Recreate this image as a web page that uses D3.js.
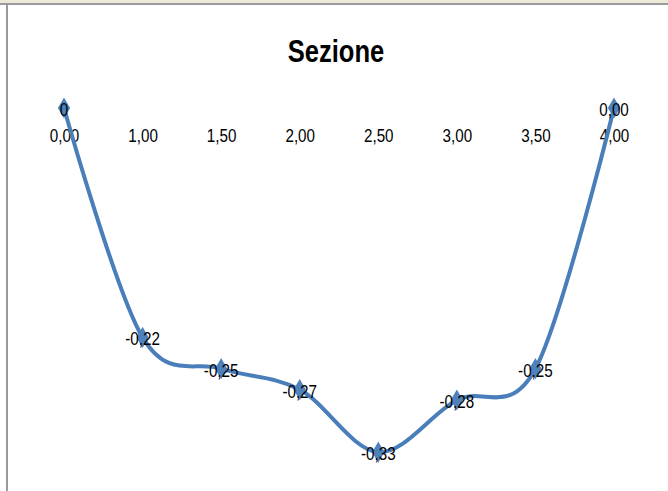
<!doctype html>
<html>
<head>
    <script src="https://cdnjs.cloudflare.com/ajax/libs/d3/7.8.5/d3.min.js"></script>
    <style>
        body { margin: 0; background: #fff; }
        svg { display: block; }
        text { font-family: "Liberation Sans Narrow", "Liberation Sans", sans-serif; }
    </style>
    <title>Sezione</title>
</head>
<body>
    <svg width="668" height="491"></svg>
    <script>
        // data
        var categories = ["0,00", "1,00", "1,50", "2,00", "2,50", "3,00", "3,50", "4,00"];
        var values = [0, -0.22, -0.25, -0.27, -0.33, -0.28, -0.25, 0.00];
        var dataLabels = ["0", "-0,22", "-0,25", "-0,27", "-0,33", "-0,28", "-0,25", "0,00"];

        var narrow = 0.8; // the original font is a condensed one

        var svg = d3.select("svg");

        // window chrome around the chart
        svg.append("rect").attr("x", 0).attr("y", 0).attr("width", 668).attr("height", 3).attr("fill", "#ece9d8");
        svg.append("rect").attr("x", 0).attr("y", 3).attr("width", 668).attr("height", 2).attr("fill", "#9a9a9a");
        svg.append("rect").attr("x", 6).attr("y", 5).attr("width", 2).attr("height", 486).attr("fill", "#9a9a9a");

        svg.append("g")
            .attr("transform", "translate(336,62) scale(" + narrow + ",1)")
            .append("text")
            .attr("text-anchor", "middle")
            .style("font-size", "32px")
            .style("font-weight", "bold")
            .text("Sezione");

        var xScale = d3.scalePoint().domain(categories).range([64, 614]);
        var yScale = d3.scaleLinear().domain([-0.35, 0]).range([473, 108]);

        var xAxis = svg.append("g")
            .attr("transform", "translate(0," + yScale(0) + ")")
            .call(d3.axisBottom(xScale).tickSize(0).tickPadding(21));
        xAxis.select(".domain").remove();
        xAxis.selectAll("text")
            .attr("fill", "#000")
            .attr("transform", "scale(" + narrow + ",1)")
            .style("font-size", "19px")
            .style("font-family", "\"Liberation Sans Narrow\", \"Liberation Sans\", sans-serif");

        var pts = categories.map(function (c, i) { return [xScale(c), yScale(values[i])]; });

        var line = d3.line().curve(d3.curveCardinal.tension(0));
        svg.append("path")
            .attr("d", line(pts))
            .attr("fill", "none")
            .attr("stroke", "#4a7ebb")
            .attr("stroke-width", 4)
            .attr("stroke-linecap", "round");

        svg.selectAll(".marker")
            .data(pts)
            .enter().append("path")
            .attr("class", "marker")
            .attr("transform", function (d) { return "translate(" + d[0] + "," + d[1] + ")"; })
            .attr("d", d3.symbol().type(d3.symbolDiamond).size(130))
            .attr("fill", "#4f81bd");

        svg.selectAll(".lbl")
            .data(pts)
            .enter().append("g")
            .attr("class", "lbl")
            .attr("transform", function (d) { return "translate(" + d[0] + "," + (d[1] + 8) + ") scale(" + narrow + ",1)"; })
            .append("text")
            .attr("text-anchor", "middle")
            .style("font-size", "19px")
            .text(function (d, i) { return dataLabels[i]; });
    </script>
</body>
</html>
